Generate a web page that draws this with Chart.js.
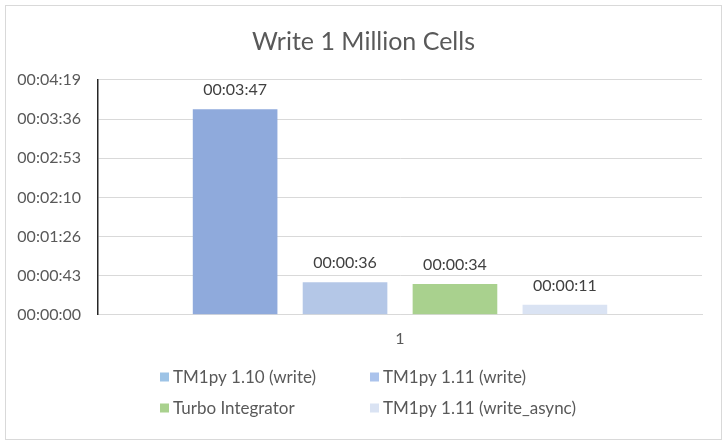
<!DOCTYPE html>
<html>
<head>
<meta charset="utf-8">
<script src="https://cdn.jsdelivr.net/npm/chart.js@4"></script>
<style>
  html, body { margin: 0; padding: 0; background: #fff; }
  #frame { position: absolute; left: 5px; top: 5px; width: 715px; height: 433px; border: 1px solid #d9d9d9; }
  #chart { position: absolute; left: 0; top: 0; }
</style>
</head>
<body>
<div id="frame"></div>
<canvas id="chart" width="727" height="444"></canvas>
<script>
// data (durations in seconds)
const categories = ['1'];
const seriesNames = ['TM1py 1.10 (write)', 'TM1py 1.11 (write)', 'Turbo Integrator', 'TM1py 1.11 (write_async)'];
const durations = [227, 36, 34, 11];
const barColors = ['#8faadc', '#b4c7e7', '#a9d18e', '#dae3f3'];
const legendColors = ['#9dc3e6', '#abc3ec', '#a9d18e', '#dae3f3'];
const yTickLabels = ['00:00:00', '00:00:43', '00:01:26', '00:02:10', '00:02:53', '00:03:36', '00:04:19'];
const yStep = 43.2;
const yMax = 259.2;

const textColor = '#595959';
const fontFamily = 'Lato, "Open Sans", sans-serif';

const zeroPad = (num) => String(num).padStart(2, '0');
const toClock = (secs) => {
  const s = Math.round(secs);
  return `${zeroPad(Math.floor(s / 3600))}:${zeroPad(Math.floor(s / 60) % 60)}:${zeroPad(s % 60)}`;
};

const valueLabels = {
  id: 'valueLabels',
  afterDatasetsDraw(chart) {
    const { ctx } = chart;
    ctx.save();
    ctx.font = `16px ${fontFamily}`;
    ctx.fillStyle = '#404040';
    ctx.textAlign = 'center';
    ctx.textBaseline = 'middle';
    chart.data.datasets.forEach((ds, i) => {
      chart.getDatasetMeta(i).data.forEach((bar, j) => {
        ctx.fillText(toClock(ds.data[j]), bar.x, bar.y - 19);
      });
    });
    ctx.restore();
  },
};

// excel style legend: two fixed columns
const gridLegend = {
  id: 'gridLegend',
  afterDraw(chart) {
    const { ctx } = chart;
    ctx.save();
    ctx.font = `17px ${fontFamily}`;
    ctx.textBaseline = 'middle';
    chart.data.datasets.forEach((ds, i) => {
      const x = 160 + (i % 2) * 210;
      const y = 377 + Math.floor(i / 2) * 31;
      ctx.fillStyle = legendColors[i];
      ctx.fillRect(x, y - 4.5, 9, 9);
      ctx.fillStyle = textColor;
      ctx.fillText(ds.label, x + 13, y + 1);
    });
    ctx.restore();
  },
};

new Chart(document.getElementById('chart'), {
  type: 'bar',
  data: {
    labels: categories,
    datasets: seriesNames.map((label, i) => ({
      label,
      data: [durations[i]],
      backgroundColor: barColors[i],
      categoryPercentage: 0.728,
      barPercentage: 0.77,
    })),
  },
  options: {
    responsive: false,
    animation: false,
    layout: { padding: { left: 0, right: 0, top: 0, bottom: 82 } },
    plugins: {
      legend: { display: false },
      tooltip: { enabled: false },
      title: {
        display: true,
        text: 'Write 1 Million Cells',
        color: textColor,
        font: { family: fontFamily, size: 25, weight: 'normal' },
        padding: { top: 27, bottom: 23 },
      },
    },
    scales: {
      x: {
        grid: { display: false, drawTicks: false },
        border: { display: true, color: '#d9d9d9', width: 1 },
        ticks: { color: textColor, padding: 14, font: { family: fontFamily, size: 16 } },
      },
      y: {
        min: 0,
        max: yMax,
        afterFit: (scale) => { scale.width = 98; },
        afterBuildTicks: (scale) => {
          scale.ticks = yTickLabels.map((_, i) => ({ value: i * yStep }));
        },
        grid: { color: '#d9d9d9', drawTicks: false },
        border: { display: true, color: '#262626', width: 1.5 },
        ticks: {
          color: textColor,
          padding: 17,
          font: { family: fontFamily, size: 16 },
          callback: (v, i) => yTickLabels[i],
        },
      },
      // empty right-hand axis, only there to leave the right margin
      yRight: {
        position: 'right',
        min: 0,
        max: yMax,
        afterFit: (scale) => { scale.width = 25; },
        grid: { display: false, drawTicks: false },
        border: { display: false },
        ticks: { display: false },
      },
    },
  },
  plugins: [valueLabels, gridLegend],
});
</script>
</body>
</html>
